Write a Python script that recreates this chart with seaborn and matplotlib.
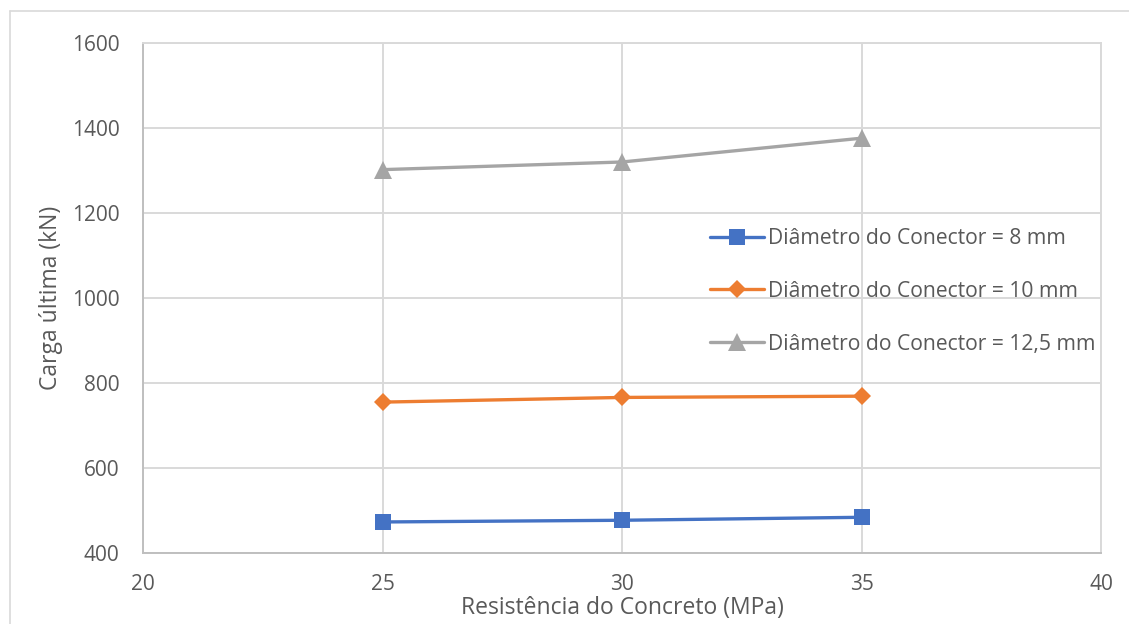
import matplotlib
matplotlib.use("Agg")
import matplotlib.pyplot as plt
from matplotlib.lines import Line2D
import seaborn as sns
import pandas as pd

# Concrete strength (MPa) and ultimate load (kN) for each connector diameter
resistencia = [25, 30, 35]
carga_8mm = [473, 477, 484]
carga_10mm = [755, 766, 769]
carga_12_5mm = [1302, 1320, 1376]

rotulos = [
    "Diâmetro do Conector = 8 mm",
    "Diâmetro do Conector = 10 mm",
    "Diâmetro do Conector = 12,5 mm",
]
cores = ["#4472C4", "#ED7D31", "#A5A5A5"]
marcadores = ["s", "D", "^"]
tamanhos = [12, 9.5, 12.5]

x_ticks = [20, 25, 30, 35, 40]
y_ticks = [400, 600, 800, 1000, 1200, 1400, 1600]

sns.set_theme(style="white")
plt.rcParams["font.family"] = ["Open Sans", "DejaVu Sans"]
texto = "#595959"
grade = "#D9D9D9"

fig = plt.figure(figsize=(11.29, 6.24), dpi=100)
ax = fig.add_axes([0.1267, 0.1138, 0.8485, 0.8173])

for valores, rot, cor, mk, ms in zip(
    [carga_8mm, carga_10mm, carga_12_5mm], rotulos, cores, marcadores, tamanhos
):
    df = pd.DataFrame({"x": resistencia, "y": valores})
    sns.lineplot(
        data=df, x="x", y="y", ax=ax, color=cor, linewidth=2.4,
        marker=mk, markersize=ms, markeredgewidth=0, label=rot,
        sort=False, zorder=3,
    )

ax.set_xlim(20, 40)
ax.set_ylim(400, 1600)
ax.set_xticks(x_ticks)
ax.set_yticks(y_ticks)
ax.set_xticklabels([str(v) for v in x_ticks])
ax.set_yticklabels([str(v) for v in y_ticks])
ax.grid(True, color=grade, linewidth=1.4)
ax.set_axisbelow(True)
for lado in ["top", "right"]:
    ax.spines[lado].set_color(grade)
    ax.spines[lado].set_linewidth(1.4)
for lado in ["left", "bottom"]:
    ax.spines[lado].set_color("#BFBFBF")
    ax.spines[lado].set_linewidth(1.4)

ax.tick_params(axis="both", length=0, labelsize=15, colors=texto)
ax.tick_params(axis="x", pad=15)
ax.tick_params(axis="y", pad=17)

ax.set_xlabel("Resistência do Concreto (MPa)", fontsize=16.5, color=texto, labelpad=1)
ax.set_ylabel("Carga última (kN)", fontsize=16.5, color=texto, labelpad=6)

leg = ax.legend(
    loc="center left", bbox_to_anchor=(0.592, 0.513), frameon=False,
    fontsize=15.2, labelcolor=texto, handlelength=2.55, handletextpad=0.2,
    labelspacing=1.5, borderpad=0, borderaxespad=0,
)

# Chart-area border (top and left edges)
fig.add_artist(Line2D([10 / 1129, 1.0], [1 - 11 / 624, 1 - 11 / 624],
                      transform=fig.transFigure, color=grade, linewidth=1.2))
fig.add_artist(Line2D([10 / 1129, 10 / 1129], [0.0, 1 - 11 / 624],
                      transform=fig.transFigure, color=grade, linewidth=1.2))

fig.savefig("out.png", dpi=100)
